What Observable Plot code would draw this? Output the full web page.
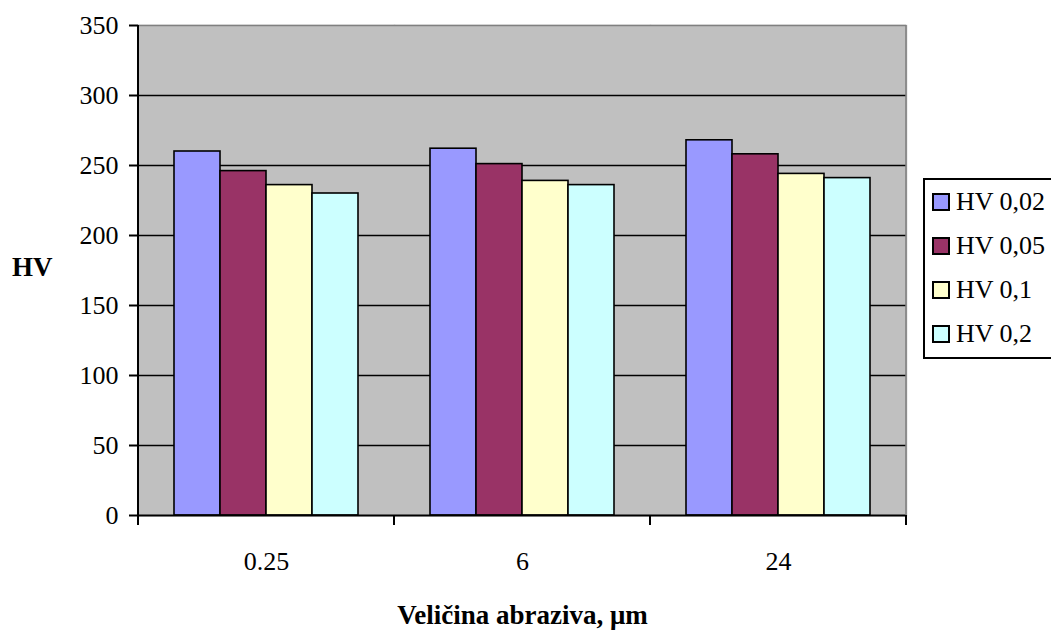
<!DOCTYPE html>
<html><head><meta charset="utf-8">
<script src="https://cdn.jsdelivr.net/npm/d3@7"></script>
<script src="https://cdn.jsdelivr.net/npm/@observablehq/plot@0.6"></script>
<style>
body{margin:0;background:#fff;}
#wrap{position:relative;width:1051px;height:630px;overflow:hidden;color:#000;}
#ytitle{position:absolute;left:12px;top:254px;font-weight:bold;font-size:27px;line-height:27px;}
#legend{position:absolute;left:923px;top:178px;width:150px;height:177px;border:2px solid #000;background:#fff;}
.item{height:44px;display:flex;align-items:center;font-size:26px;}
.sw{width:14px;height:14px;border:2px solid #000;margin-left:7px;margin-right:6px;flex:none;}
</style></head><body><div id="wrap"><div id="ytitle" style="font-family:'Times New Roman','Liberation Serif',serif"></div><div id="legend" style="font-family:'Times New Roman','Liberation Serif',serif"></div></div>
<script>
const categories = ["0.25", "6", "24"];
const series = ["HV 0,02", "HV 0,05", "HV 0,1", "HV 0,2"];
const hv002 = [260, 262, 268];
const hv005 = [246, 251, 258];
const hv01 = [236, 239, 244];
const hv02 = [230, 236, 241];
const seriesColors = ["#9999ff", "#993366", "#ffffcc", "#ccffff"];
const yTicks = [0, 50, 100, 150, 200, 250, 300, 350];
const xTitle = "Veličina abraziva, μm";
const yTitle = "HV";
const serifFont = "'Times New Roman','Liberation Serif',serif";

const seriesValues = [hv002, hv005, hv01, hv02];
const data = categories.flatMap((c, i) => series.map((s, j) => ({category: c, series: s, value: seriesValues[j][i]})));

const chart = Plot.plot({
  width: 1051, height: 630,
  marginTop: 25, marginBottom: 115, marginLeft: 137, marginRight: 144,
  style: {fontFamily: serifFont, fontSize: "26px", background: "transparent", overflow: "visible", color: "black"},
  fx: {domain: categories, padding: 0, label: null},
  x: {domain: series, paddingInner: 0, paddingOuter: 0.75, axis: null},
  y: {domain: [0, 350]},
  color: {domain: series, range: seriesColors},
  marks: [
    Plot.frame({fill: "#c0c0c0", stroke: "#c0c0c0", strokeWidth: 1.5}),
    Plot.ruleY(yTicks.filter(v => v > 0 && v < 350), {stroke: "black", strokeWidth: 1.6}),
    Plot.ruleY([350], {stroke: "#808080", strokeWidth: 1.6}),
    Plot.barY(data, {fx: "category", x: "series", y: "value", fill: "series", stroke: "black", strokeWidth: 1.6}),
    Plot.ruleY([0], {stroke: "black", strokeWidth: 2}),
    Plot.axisY({ticks: yTicks, tickSize: 9, tickPadding: 11, strokeWidth: 2, label: null, tickFormat: d => String(d), fontFamily: serifFont}),
    Plot.axisFx({anchor: "bottom", tickSize: 0, tickPadding: 36, label: null, fontFamily: serifFont}),
    Plot.axisFx({anchor: "bottom", ticks: [], tickSize: 0, label: xTitle, labelAnchor: "center", labelOffset: 108, fontWeight: "bold", fontSize: 27, fontFamily: serifFont})
  ]
});

// axis lines and category boundary ticks, placed with the chart's own scales
const fx = chart.scale("fx"), ys = chart.scale("y");
const edges = [...categories.map(c => fx.apply(c)), fx.apply(categories[categories.length - 1]) + fx.bandwidth];
const y0 = ys.apply(0), yTop = ys.apply(350);
const svg = d3.select(chart);
svg.append("line").attr("x1", edges[edges.length - 1]).attr("x2", edges[edges.length - 1]).attr("y1", yTop).attr("y2", y0)
  .attr("stroke", "#808080").attr("stroke-width", 1.6);
const g = svg.append("g").attr("stroke", "black").attr("stroke-width", 2);
g.append("line").attr("x1", edges[0]).attr("x2", edges[0]).attr("y1", yTop).attr("y2", y0);
g.selectAll("line.b").data(edges).join("line").attr("class", "b")
  .attr("x1", d => d).attr("x2", d => d).attr("y1", y0).attr("y2", y0 + 10);

const wrap = document.getElementById("wrap");
chart.style.position = "absolute";
chart.style.left = "0px";
chart.style.top = "0px";
wrap.insertBefore(chart, wrap.firstChild);
document.getElementById("ytitle").textContent = yTitle;

const legend = document.getElementById("legend");
series.forEach((s, j) => {
  const item = document.createElement("div");
  item.className = "item";
  const sw = document.createElement("div");
  sw.className = "sw";
  sw.style.background = seriesColors[j];
  const t = document.createElement("span");
  t.textContent = s;
  item.appendChild(sw);
  item.appendChild(t);
  legend.appendChild(item);
});
</script></body></html>
